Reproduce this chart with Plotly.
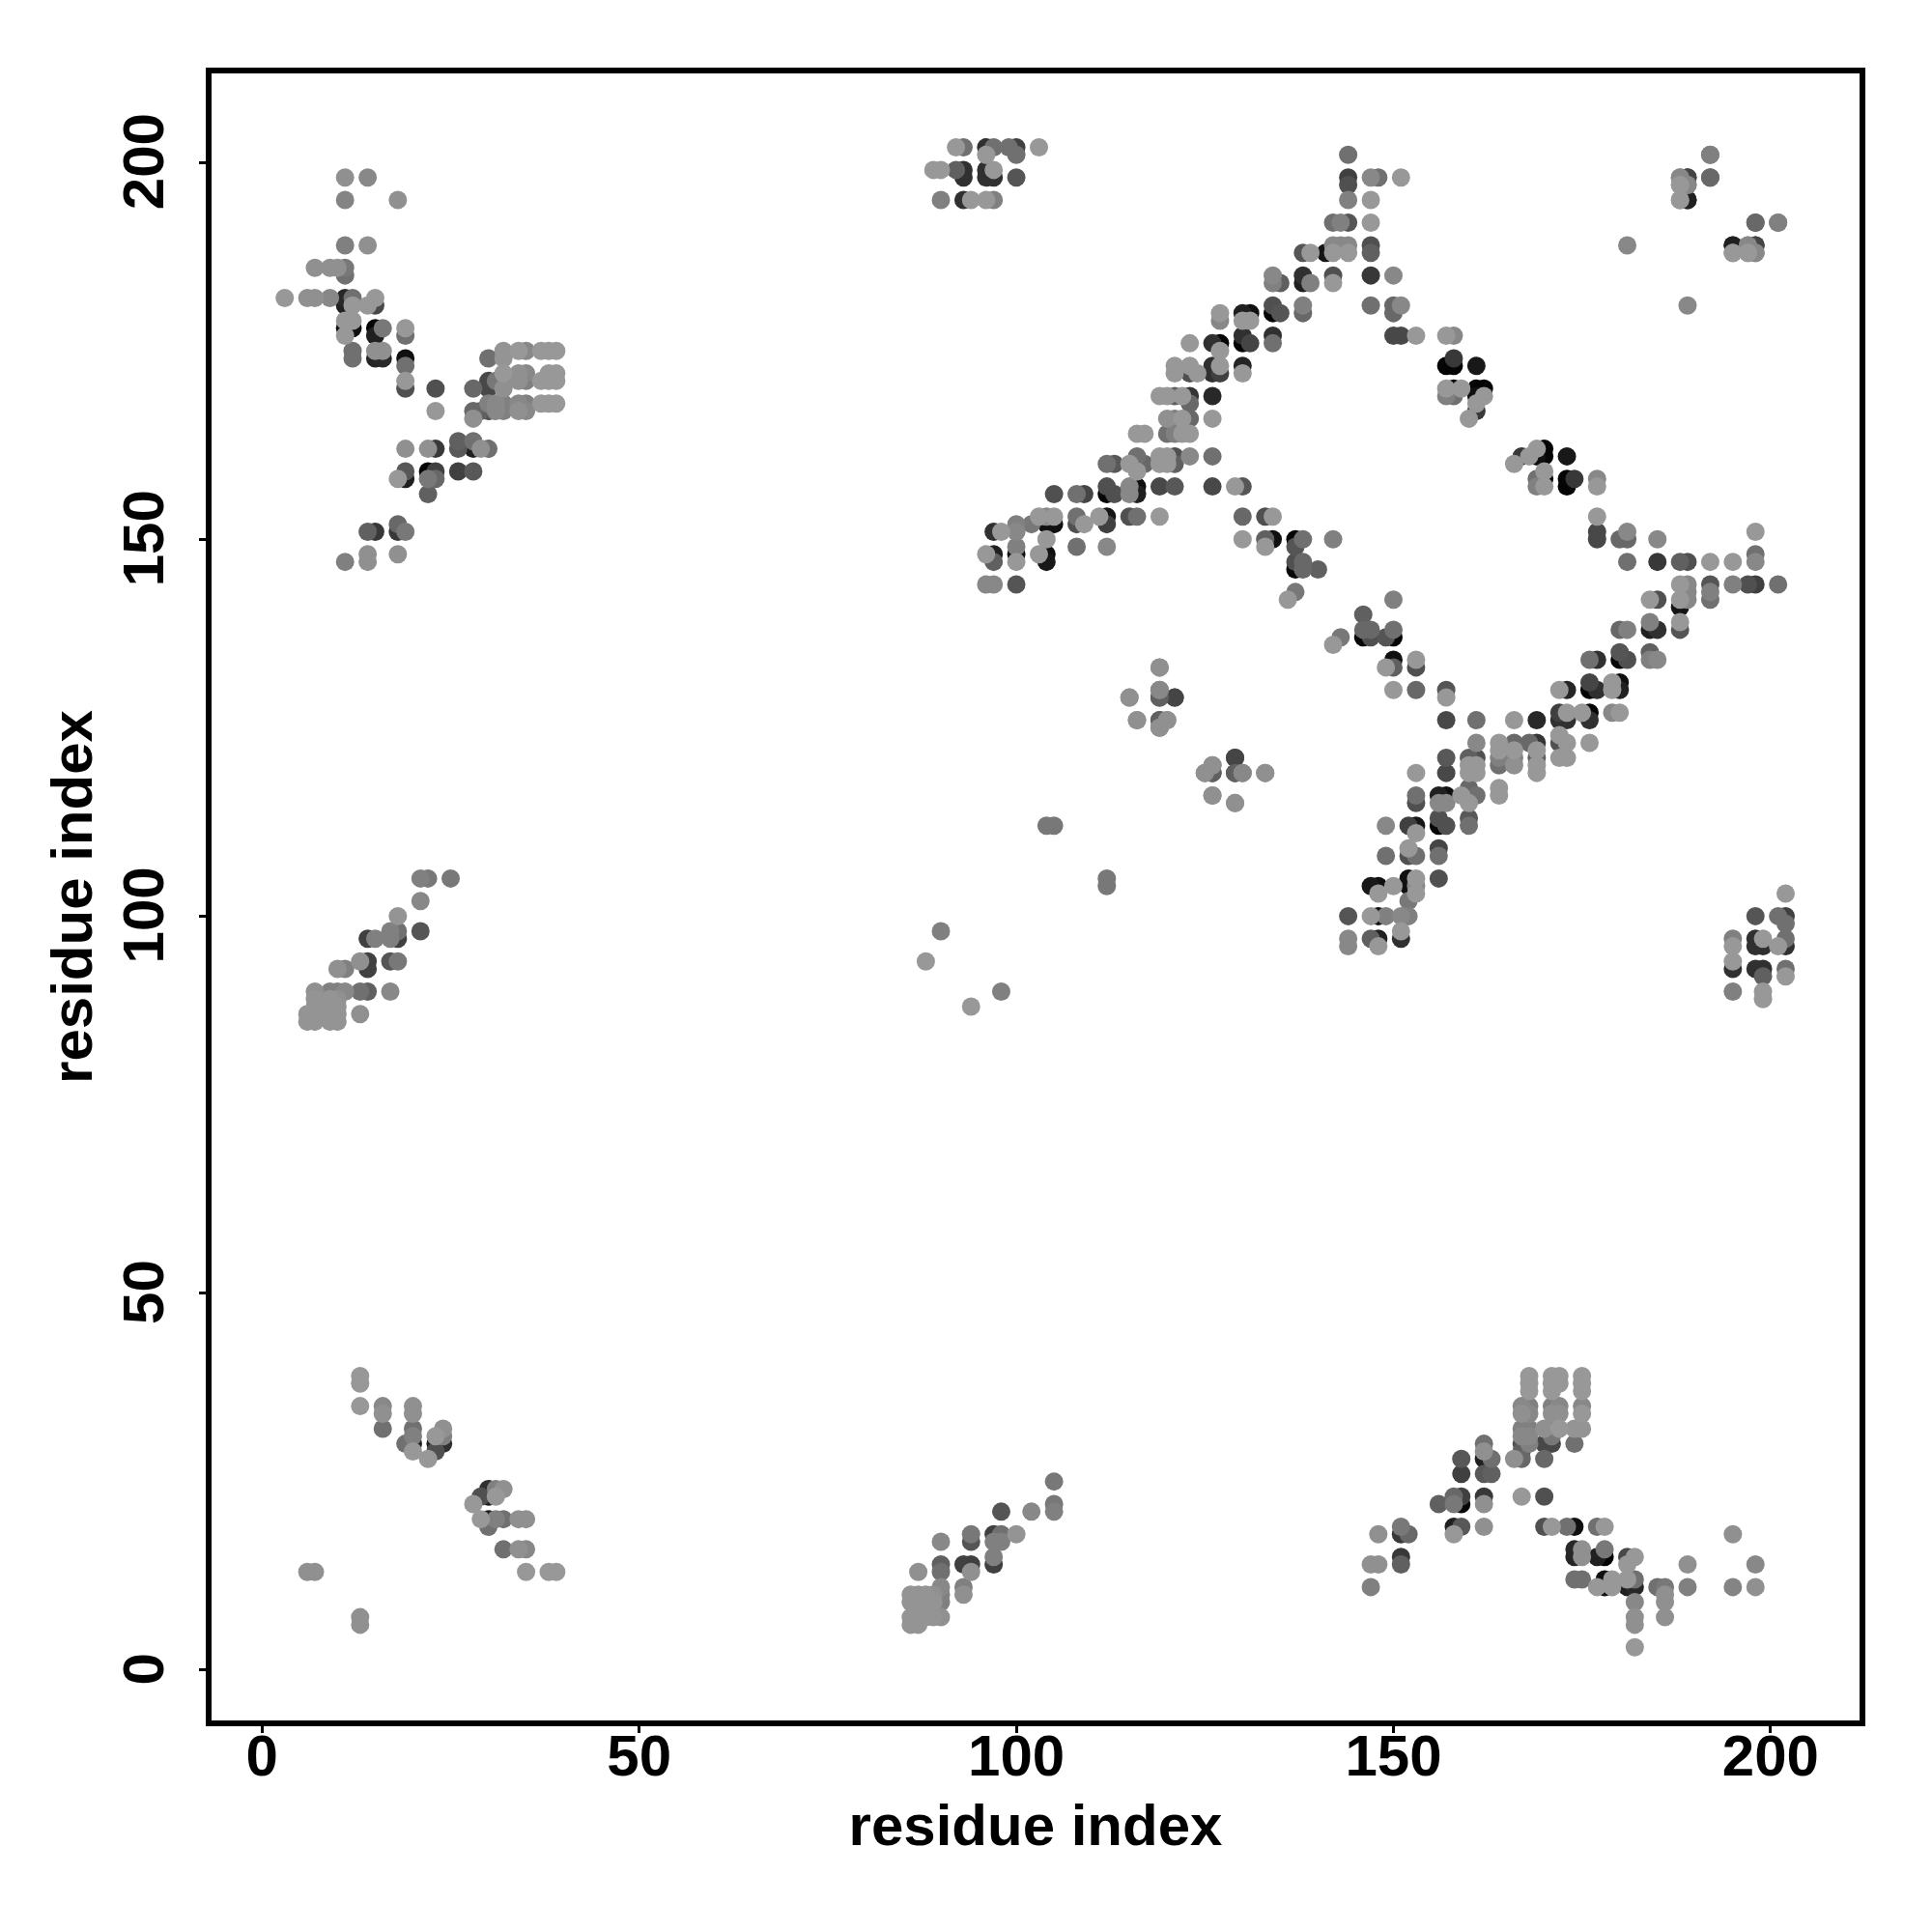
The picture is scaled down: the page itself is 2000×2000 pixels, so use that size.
import plotly.graph_objects as go

L = 0x98
# contacts: (residue i, residue j, grey level); the map is symmetric
cluster_n_c = [
 (11,198,L-8),(14,198,0x88),(11,195,0x84),(18,195,L-8),(11,189,0x80),(14,189,L-8),
 (7,186,L-8),(9,186,0x90),(10,186,0x90),(11,186,0x78),(11,185,0x70),
 (3,182,L),(6,182,L-8),(7,182,L-8),(9,182,0x88),(11,182,0x28),(12,182,0x70),(15,182,L),
 (11,181,0x20),(12,181,L),(14,181,L),(15,181,0x48),
 (11,178,0x10),(12,178,0x10),(15,178,0x05),(11,177,L),(15,177,0x20),(16,178,0x78),(19,177,0x70),
 (11,179,L),(12,179,L),(19,178,L),
 (12,175,0x70),(12,174,0x70),(15,174,0x25),(16,174,0x28),(15,175,L-8),(16,175,L-8),(19,174,0x10),(19,173,0x70),
 (19,170,0x50),(19,171,L),(23,170,0x50),(23,167,L),(28,170,0x68),
]
cluster_c_c = [
 (30,174,0x70),(32,174,L-4),(32,175,L-4),(34,175,L),(35,175,0x88),(37,175,L),(38,175,L),(39,175,L),
 (30,171,0x48),(30,170,0x48),(31,171,0x78),(32,170,L-8),(32,171,0x78),(32,172,L),(34,172,0x90),(35,172,0x88),
 (34,171,L-8),(35,171,0x80),(37,171,L),(38,172,L),(39,172,L),(38,171,L),(39,171,L),
 (28,167,0x68),(29,167,0x60),(30,167,0x50),(28,166,L-8),(30,168,0x80),(31,168,0x88),(31,167,0x88),(32,168,0x80),(32,167,0x80),
 (34,168,0x88),(35,168,0x80),(34,167,0x90),(35,167,0x88),(37,168,L),(38,168,L),(39,168,L),
 (26,163,0x60),(28,163,0x70),(26,162,0x58),(28,162,0x20),(29,162,L-8),(30,162,0x70),
 (19,162,L-8),(22,162,L-8),(23,162,0x38),
 (18,158,L),(19,158,0x20),(19,159,0x58),(22,158,0x78),(23,158,0x68),(22,159,0x05),(23,159,0x40),(26,159,0x40),(28,159,0x58),
 (22,156,0x60),(18,152,0x68),(14,151,0x60),(15,151,0x38),(18,151,0x38),(19,151,0x78),
 (14,148,L-8),(18,148,L-8),(11,147,0x80),(14,147,L-8),
]
cluster_left = [
 (7,90,0x90),(7,89,L-4),(7,88,L-4),(6,87,L-4),(7,87,L-4),(9,87,L-4),(10,87,L-4),(6,86,L-4),(7,86,L-4),(9,86,L-4),(10,86,L-4),
 (9,88,L-4),(10,88,L-4),(9,89,L-4),(10,89,0x90),
 (9,90,0x80),(10,90,0x80),(11,90,0x88),(13,90,0x70),(14,90,0x60),(17,90,0x88),(13,87,0x90),
 (10,93,0x90),(11,93,0x80),(14,93,0x40),(13,94,0x90),(14,94,0x40),(17,94,0x55),(18,94,0x78),
 (14,97,0x40),(15,97,0x80),(17,97,0x80),(18,97,0x40),(17,98,0x80),(18,98,0x70),(21,98,0x55),
 (18,100,L-4),(21,102,0x88),(21,105,0x80),(22,105,0x78),(25,105,0x78),
]
cluster_n_n = [
 (13,39,L),(13,38,L),(13,35,L),(16,35,0x88),(16,34,L-8),(20,35,L-8),(20,34,L-8),(16,32,0x70),(20,32,0x70),(20,31,0x80),
 (19,30,0x70),(20,30,0x20),(20,29,L),(22,28,L),(23,29,0x50),(23,30,0x20),(24,30,0x30),(23,31,L),(24,31,0x80),(24,32,L-8),
 (6,13,0x90),(7,13,0x90),
]
cluster_mid = [
 (119,133,L-8),(119,130,0x88),(119,129,0x50),(121,129,0x45),(115,129,L-8),(116,126,L-8),(119,126,0x60),(120,126,L-8),(119,125,L-8),
 (129,121,0x45),(125,119,0x80),(126,119,0x55),(126,120,0x88),(129,119,0x60),(130,119,0x88),(133,119,L-8),(126,116,L-8),(129,115,L-8),
 (104,112,0x78),(105,112,0x78),(90,98,0x80),(88,94,L),
]
cluster_m_c = [
 (92,202,L),(93,202,0x70),(96,202,0x30),(97,202,0x70),(99,202,0x70),(100,202,0x40),(103,202,L),(96,201,L),(100,201,0x70),
 (89,199,L),(90,199,L),(92,199,0x60),(93,199,0x30),(96,199,0x30),(93,198,0x30),(96,198,0x30),(97,198,0x30),(97,199,L),(100,198,0x55),
 (90,195,0x80),(93,195,0x30),(94,195,L),(96,195,L),(97,195,0x80),
]
strand_upper = [
 (96,148,L),(97,148,0x20),(100,148,0x10),(103,148,L),(104,148,0x10),
 (97,147,0x60),(100,147,L),(104,147,0x18),(96,144,0x88),(97,144,0x88),(100,144,0x55),
 (97,151,0x30),(98,151,L),(100,151,0x88),(100,149,0x80),(108,149,0x70),(112,149,0x88),
 (104,150,L),(100,152,0x80),(102,152,0x78),(104,152,0x10),(105,152,0x10),(108,152,0x50),(109,152,L),(112,152,0x40),
 (103,153,L),(104,153,0x88),(105,153,L),(108,153,0x70),(111,153,L),(112,153,0x15),(115,153,0x50),(116,153,0x70),(119,153,L),
 (105,156,0x50),(108,156,0x70),(109,156,0x45),(112,156,0x05),(113,156,0x50),(115,156,0x88),(116,156,0x20),
 (112,157,0x50),(115,157,0x88),(116,157,0x10),(119,157,0x48),(121,157,0x58),(126,157,0x48),
 (112,160,0x70),(113,160,0x58),(115,160,L),(116,160,0x15),(117,160,0x68),(116,159,L),(119,160,L),(120,160,L),(121,160,0x60),
 (116,161,0x70),(119,161,L),(120,161,L),(121,161,0x50),(123,161,0x88),(126,161,0x70),
 (116,164,L),(117,164,L),(120,164,0x70),(121,164,0x80),(122,164,L),(123,164,L),
 (120,166,0x90),(121,166,0x80),(122,166,L),(123,166,0x68),(126,166,L),
 (123,168,0x68),(119,169,L),(120,169,L),(121,169,0x60),(122,169,L),(123,169,0x35),(126,169,0x28),
 (121,172,L),(123,172,0x50),(124,172,L),(126,172,0x30),(127,172,0x40),(130,172,L),
 (121,173,L),(123,173,L),(126,173,0x30),(127,173,L),(130,173,0x25),
 (123,176,L),(126,176,0x30),(127,176,0x05),(130,176,0x05),(131,176,0x45),(134,176,0x70),(127,175,L),
 (130,177,0x30),(134,177,0x30),
 (127,179,0x88),(130,179,L),(131,179,L),(127,180,L),(130,180,0x20),(131,180,0x10),(134,180,0x05),(135,180,0x55),(138,180,0x68),
 (134,181,0x50),(138,181,0x80),(147,181,0x70),(150,181,0x68),(151,181,0x88),
 (134,185,0x88),(134,184,0x80),(135,184,0x60),(138,185,0x30),(138,184,0x20),(139,184,0x80),(142,185,0x50),(142,184,L),(147,185,0x38),(150,185,0x88),
 (138,188,0x55),(139,188,L),(141,188,0x15),(142,188,L),(144,188,L),(147,188,0x60),
 (142,189,0x88),(143,189,0x88),(144,189,0x88),(147,189,0x50),
 (142,192,0x70),(143,192,0x80),(144,192,0x55),(147,192,L),
 (144,195,0x80),(147,195,L),(144,197,0x50),(144,198,0x40),(147,198,0x88),(148,198,0x70),(151,198,L),(144,201,0x70),
 (150,180,0x68),(150,177,0x48),(151,177,0x48),(153,177,L),(157,177,L),(158,177,0x88),
]
cross_strand = [
 (130,153,0x68),(133,153,0x50),(134,153,L),(130,150,L),(133,150,0x60),(134,150,0x10),(137,150,0x05),(138,150,0x70),(142,150,0x80),
 (133,149,L),(137,149,0x55),(137,147,0x50),(138,147,0x68),(137,146,0x08),(138,146,0x68),(140,146,0x60),(137,143,0x78),(136,142,L),
 (129,157,L),(130,157,0x55),
]
cluster_c_hairpin = [
 (158,174,0x38),(157,173,0x05),(158,173,0x05),(161,173,0x18),
 (157,170,L),(158,170,0x05),(159,170,L),(161,170,0x05),(162,170,0x05),
 (157,169,0x80),(158,169,0x70),(161,169,0x10),(162,169,L),(161,168,L),(161,167,0x38),(160,166,L),
]
cluster_top_right = [
 (188,198,0x88),(189,198,0x40),(192,198,0x68),(188,197,L),(189,197,0x88),(188,195,L),(189,195,0x20),(192,201,0x80),
 (198,192,0x60),(201,192,0x80),(195,189,0x20),(197,189,0x80),(198,189,0x45),(195,188,0x80),(197,188,L),(198,188,0x80),
 (181,189,0x88),
]
tick_values = [0, 50, 100, 150, 200]
axis_label = "residue index"

contacts = (cluster_left + cluster_n_n + cluster_n_c + cluster_c_c + cluster_mid + cluster_m_c
            + strand_upper + cross_strand + cluster_c_hairpin + cluster_top_right)
# darker contacts are laid down first, so that the paler ones sit over them
contacts = sorted(contacts, key=lambda c: c[2])

xs, ys, cols = [], [], []
for a, b, g in contacts:
    c = f"rgb({g},{g},{g})"
    xs += [a, b]
    ys += [b, a]
    cols += [c, c]

fig = go.Figure(go.Scatter(x=xs, y=ys, mode="markers",
                           marker=dict(size=19, color=cols, line=dict(width=0)),
                           hoverinfo="skip"))

label_font = dict(family="Liberation Sans", size=60, color="black", weight="bold")
axis_common = dict(
    range=[-6.7, 211.8], autorange=False, tickvals=tick_values, ticktext=[str(t) for t in tick_values],
    showgrid=False, zeroline=False, showline=True, mirror=True, linecolor="black", linewidth=6,
    ticks="outside", ticklen=7, tickwidth=3, tickcolor="black",
    tickfont=label_font, automargin=False,
)
fig.update_xaxes(**axis_common, ticklabelstandoff=-28, title=dict(text=axis_label, standoff=20, font=label_font))
fig.update_yaxes(**axis_common, tickangle=-90, ticklabelstandoff=13, ticklabelshift=8,
                 title=dict(text=axis_label, standoff=2, font=label_font))
fig.update_layout(width=2000, height=2000, margin=dict(l=211, r=83, t=68, b=227),
                  paper_bgcolor="white", plot_bgcolor="white", showlegend=False)
fig.write_html("out.html")
